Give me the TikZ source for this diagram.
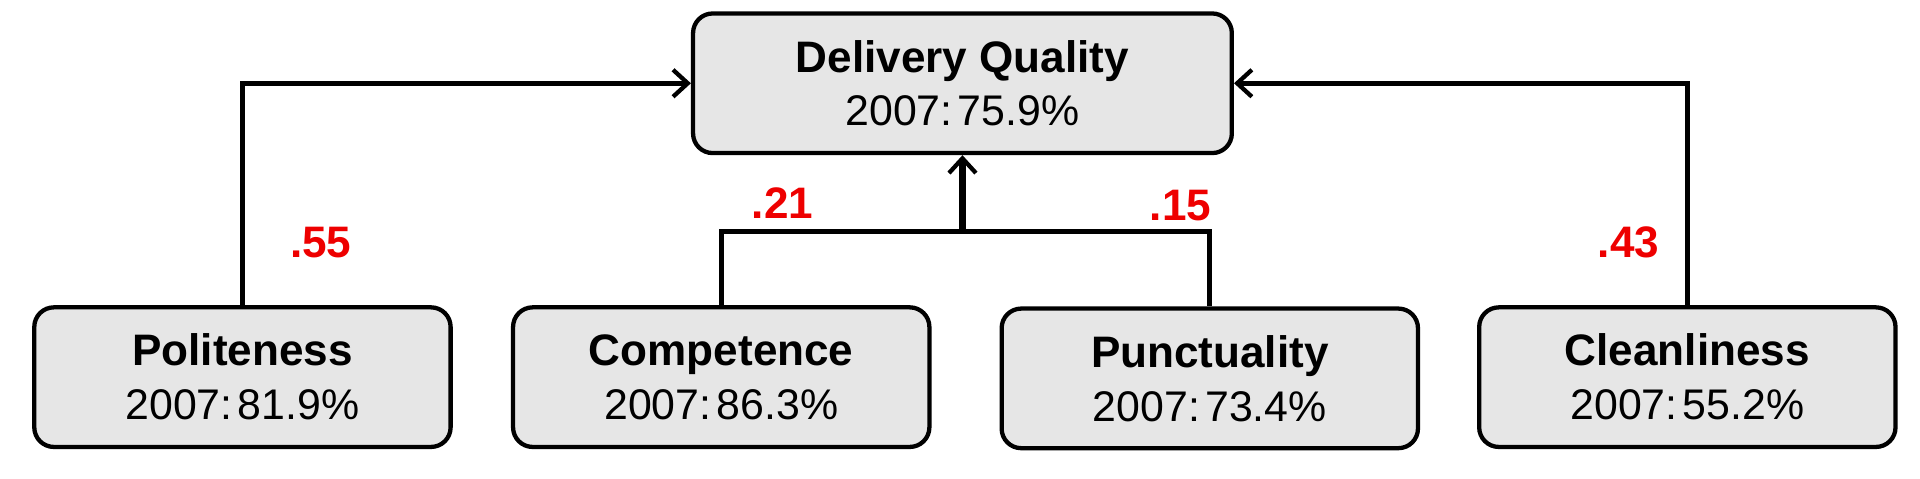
\documentclass[tikz,border=0pt]{standalone}
\usepackage{fontspec}
\setmainfont{Liberation Sans}
\usetikzlibrary{arrows.meta}
\definecolor{boxgray}{HTML}{E6E6E6}
\definecolor{lblred}{HTML}{EE0000}
\newcommand{\yr}{2007:\hspace{0.12em}}
\begin{document}
\begin{tikzpicture}[x=1pt,y=-1pt,
  box/.style={draw=black, line width=3.5pt, fill=boxgray, rounded corners=16pt,
    align=center, inner sep=0pt, minimum width=340pt, minimum height=114pt,
    font=\fontsize{35}{44}\selectfont},
  conn/.style={draw=black, line width=3.8pt},
  tip/.style={-{Straight Barb[length=12pt,width=22pt,line width=3.5pt]}},
  lbl/.style={text=lblred, font=\fontsize{36}{40}\selectfont\bfseries, inner sep=0pt}]
\useasboundingbox (0,0) rectangle (1568,391);
\node[box, minimum width=440pt] (dq) at (786,68)
  {{\fontsize{36}{44}\selectfont\bfseries Delivery Quality}\\\yr 75.9\%};
\node[box] (pol) at (198,308) {{\fontsize{36}{44}\selectfont\bfseries Politeness}\\\yr 81.9\%};
\node[box] (com) at (589,308) {{\fontsize{36}{44}\selectfont\bfseries Competence}\\\yr 86.3\%};
\node[box] (pun) at (988,309) {{\fontsize{36}{44}\selectfont\bfseries Punctuality}\\\yr 73.4\%};
\node[box] (cle) at (1378,308) {{\fontsize{36}{44}\selectfont\bfseries Cleanliness}\\\yr 55.2\%};
\coordinate (j) at (786,189);
\draw[conn, tip] (pol.north) |- (dq.west);
\draw[conn, tip] (cle.north) |- (dq.east);
\draw[conn] (com.north) |- (j) -| (pun.north);
\draw[conn, line width=5pt, tip] (j) -- (dq.south);
\node[lbl] (l55) at (262,198) {.55};
\node[lbl] (l21) at (639,166) {.21};
\node[lbl] (l15) at (964,168) {.15};
\node[lbl] (l43) at (1330,198) {.43};
\end{tikzpicture}
\end{document}
